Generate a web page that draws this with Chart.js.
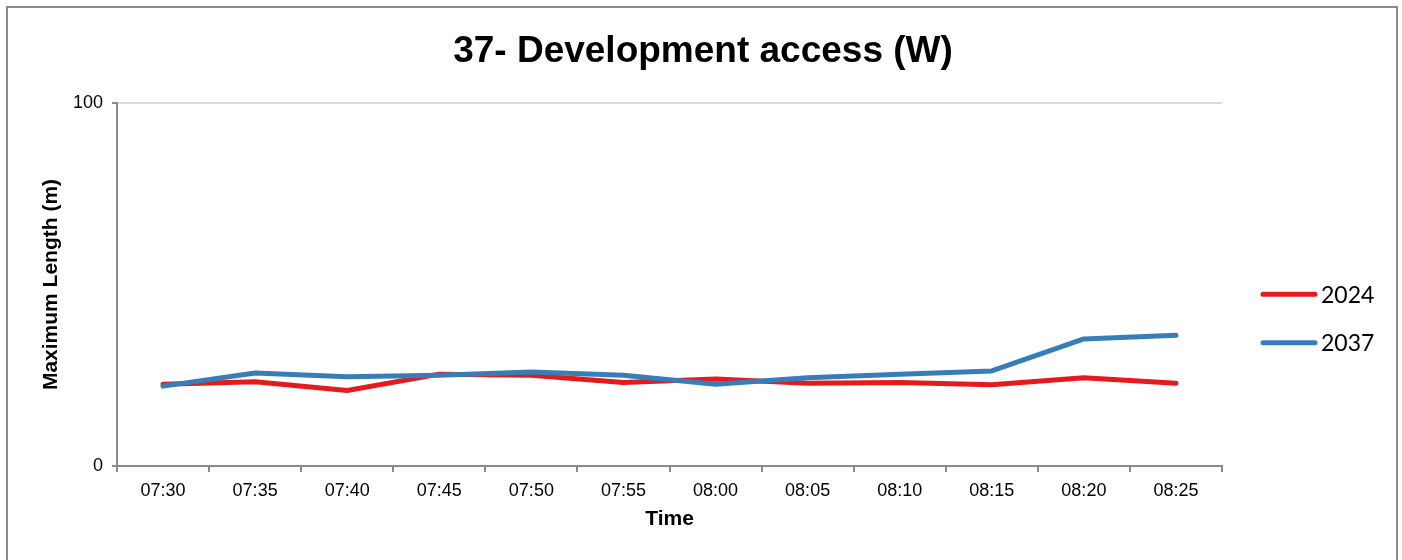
<!DOCTYPE html>
<html>
<head>
<meta charset="utf-8">
<script src="https://cdn.jsdelivr.net/npm/chart.js@4.4.1/dist/chart.umd.min.js"></script>
<style>
  html, body { margin: 0; padding: 0; background: #fff; overflow: hidden; }
  #wrap { position: relative; width: 1402px; height: 560px; }
  #frame { position: absolute; left: 6px; top: 6px; width: 1388px; height: 600px; border: 2px solid #8a8a8a; pointer-events: none; }
  canvas { position: absolute; left: 0; top: 0; }
</style>
</head>
<body>
<div id="wrap">
  <canvas id="c" width="1402" height="560"></canvas>
  <div id="frame"></div>
</div>
<script>
const chartTitle = '37- Development access (W)';
const categories = ['07:30','07:35','07:40','07:45','07:50','07:55','08:00','08:05','08:10','08:15','08:20','08:25'];
const series2024 = [22.5, 23.2, 20.8, 25.3, 25.0, 23.0, 24.0, 22.8, 23.0, 22.4, 24.3, 22.8];
const series2037 = [22.0, 25.6, 24.6, 25.0, 25.9, 25.0, 22.5, 24.3, 25.3, 26.2, 35.0, 36.0];
const seriesLabels = ['2024', '2037'];
const seriesColors = ['#e41a1c', '#377eb8'];
const yTicks = [0, 100];

const titleAndLegend = {
  id: 'titleAndLegend',
  afterDraw(chart) {
    const ctx = chart.ctx;
    ctx.save();
    ctx.font = 'bold 37px "Liberation Sans", Arial, sans-serif';
    ctx.fillStyle = '#000';
    ctx.textAlign = 'center';
    ctx.textBaseline = 'alphabetic';
    ctx.fillText(chartTitle, 703, 62);
    ctx.restore();

    ctx.save();
    const ys = [294.3, 342.7];
    chart.data.datasets.forEach((ds, i) => {
      const y = ys[i];
      ctx.strokeStyle = ds.borderColor;
      ctx.lineWidth = 5;
      ctx.lineCap = 'round';
      ctx.beginPath();
      ctx.moveTo(1263, y);
      ctx.lineTo(1315, y);
      ctx.stroke();
      ctx.fillStyle = '#000';
      ctx.font = '23px Lato, "Open Sans", sans-serif';
      ctx.textAlign = 'left';
      ctx.textBaseline = 'alphabetic';
      ctx.fillText(ds.label, 1321, y + 8.6);
    });
    ctx.restore();
  }
};

new Chart(document.getElementById('c'), {
  type: 'line',
  data: {
    labels: categories,
    datasets: [
      { label: seriesLabels[0], data: series2024, borderColor: seriesColors[0], backgroundColor: seriesColors[0],
        borderWidth: 5, pointRadius: 0, tension: 0, fill: false, order: 1,
        borderJoinStyle: 'round', borderCapStyle: 'round' },
      { label: seriesLabels[1], data: series2037, borderColor: seriesColors[1], backgroundColor: seriesColors[1],
        borderWidth: 5, pointRadius: 0, tension: 0, fill: false, order: 0,
        borderJoinStyle: 'round', borderCapStyle: 'round' }
    ]
  },
  options: {
    responsive: false,
    animation: false,
    layout: { padding: { top: 103, right: 180, bottom: 0, left: 0 } },
    plugins: {
      legend: { display: false },
      title: { display: false },
      tooltip: { enabled: false }
    },
    scales: {
      x: {
        offset: true,
        afterFit: s => { s.height = 94; },
        grid: { display: true, offset: true, drawOnChartArea: false, drawTicks: true, tickLength: 6,
                color: '#8a8a8a', tickColor: '#8a8a8a', lineWidth: 2 },
        border: { display: true, color: '#8a8a8a', width: 2 },
        ticks: { color: '#000', font: { family: '"Liberation Sans", Arial, sans-serif', size: 18 },
                 padding: 8, maxRotation: 0, autoSkip: false },
        title: { display: true, text: 'Time', color: '#000',
                 font: { family: '"Liberation Sans", Arial, sans-serif', size: 21, weight: 'bold' },
                 padding: { top: 0, bottom: 28 } }
      },
      y: {
        min: yTicks[0],
        max: yTicks[yTicks.length - 1],
        afterFit: s => { s.width = 117; },
        afterBuildTicks: s => { s.ticks = yTicks.map(v => ({ value: v })); },
        grid: { color: c => (c.tick && c.tick.value === 0) ? 'rgba(0,0,0,0)' : '#d9d9d9',
                lineWidth: 2, tickLength: 5, tickColor: '#8a8a8a', tickWidth: 2, drawTicks: true },
        border: { display: true, color: '#8a8a8a', width: 2 },
        ticks: { color: '#000', font: { family: '"Liberation Sans", Arial, sans-serif', size: 18 }, padding: 9 },
        title: { display: true, text: 'Maximum Length (m)', color: '#000',
                 font: { family: '"Liberation Sans", Arial, sans-serif', size: 21, weight: 'bold' },
                 padding: { top: 39, bottom: 0 } }
      }
    }
  },
  plugins: [titleAndLegend]
});
</script>
</body>
</html>
